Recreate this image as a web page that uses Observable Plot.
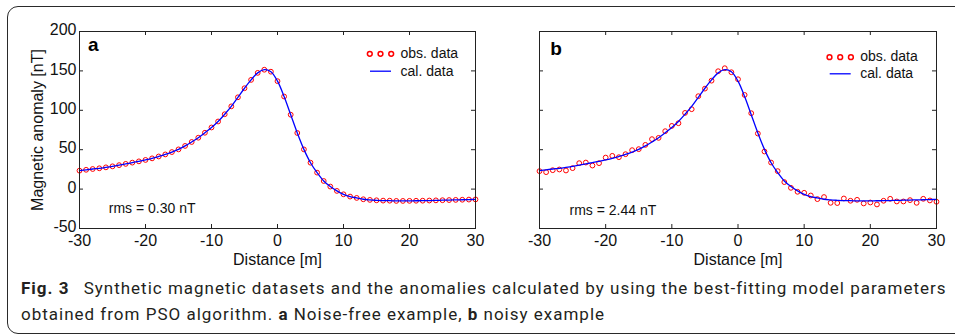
<!DOCTYPE html>
<html>
<head>
<meta charset="utf-8">
<script src="https://cdn.jsdelivr.net/npm/d3@7"></script>
<script src="https://cdn.jsdelivr.net/npm/@observablehq/plot@0.6"></script>
<style>
  html, body { margin: 0; padding: 0; background: #fff; }
  #page { position: relative; width: 955px; height: 336px; overflow: hidden; background: #fff; }
  #box { position: absolute; left: 7px; top: 6px; width: 990px; height: 328px; border: 1px solid #2a2a2a; border-radius: 11px; box-sizing: border-box; }
  #pa { position: absolute; left: 0; top: 0; }
  #pb { position: absolute; left: 480px; top: 0; }
  #cap { position: absolute; left: 21px; top: 275px; font-family: Roboto, "Noto Sans", sans-serif; font-size: 17px; line-height: 26px; color: #231f20; white-space: nowrap; }
  #cap b { font-weight: 700; }
  #cap .fig { margin-right: 9px; }
</style>
</head>
<body>
<div id="page">
  <div id="box"></div>
  <div id="pa"></div>
  <div id="pb"></div>
  <div id="cap">
    <div><span id="l1"><b class="fig">Fig. 3</b> Synthetic magnetic datasets and the anomalies calculated by using the best-fitting model parameters</span></div>
    <div><span id="l2">obtained from PSO algorithm. <b>a</b> Noise-free example, <b>b</b> noisy example</span></div>
  </div>
</div>
<script>
// ---- data ----
const distance = [-30,-29,-28,-27,-26,-25,-24,-23,-22,-21,-20,-19,-18,-17,-16,-15,-14,-13,-12,-11,-10,-9,-8,-7,-6,-5,-4,-3,-2,-1,0,1,2,3,4,5,6,7,8,9,10,11,12,13,14,15,16,17,18,19,20,21,22,23,24,25,26,27,28,29,30];

const obsA = [23.4,24.5,25.5,26.4,27.6,28.9,30.4,32.0,33.6,35.2,37.0,39.0,41.4,44.0,47.0,50.4,54.8,59.8,65.2,71.5,78.2,85.8,95.0,105.0,116.5,128.0,138.6,147.5,151.5,149.0,137.0,117.5,94.4,71.2,50.4,33.5,20.9,10.3,3.2,-2.3,-6.6,-9.5,-11.2,-12.9,-13.7,-14.2,-14.6,-14.7,-15.0,-15.0,-14.9,-14.8,-14.7,-14.5,-14.3,-14.1,-13.9,-13.7,-13.5,-13.3,-13.1];

const calValues = [23.4,24.5,25.5,26.4,27.6,28.9,30.4,32.0,33.6,35.2,37.0,39.0,41.4,44.0,47.0,50.4,54.8,59.8,65.2,71.5,78.2,85.8,95.0,105.0,116.5,128.0,138.6,147.5,151.5,149.0,137.0,117.5,94.4,71.2,50.4,33.5,20.9,10.3,3.2,-2.3,-6.6,-9.5,-11.2,-12.9,-13.7,-14.2,-14.6,-14.7,-15.0,-15.0,-14.9,-14.8,-14.7,-14.5,-14.3,-14.1,-13.9,-13.7,-13.5,-13.3,-13.1];

const obsB = [22.8,21.5,24.0,24.9,23.6,26.6,32.9,33.7,29.9,32.9,40.0,42.2,40.5,44.3,49.4,50.7,56.1,63.4,65.0,73.5,80.2,83.6,96.7,101.4,117.9,127.5,137.6,149.6,153.4,148.3,139.4,119.5,96.3,70.5,47.7,33.7,22.8,8.9,1.6,-3.4,-4.7,-8.1,-12.7,-10.1,-17.4,-17.7,-11.9,-14.8,-13.6,-18.2,-17.0,-19.5,-14.8,-12.3,-15.7,-15.7,-14.0,-17.4,-12.3,-14.4,-16.1];

const xTicks = [-30,-20,-10,0,10,20,30];
const yTicks = [-50,0,50,100,150,200];
const panelLabels = ["a", "b"];
const rmsLabels = ["rms = 0.30 nT", "rms = 2.44 nT"];
const legendLabels = ["obs. data", "cal. data"];

// ---- drawing ----
const dashSymbol = { draw(ctx) { ctx.moveTo(-10.5, 0); ctx.lineTo(10.5, 0); } };

function panel(cfg) {
  const h = 270, mt = 31, mb = 42;
  const iw = cfg.w - cfg.ml - cfg.mr, ih = h - mt - mb;
  const tl = 4;
  const rows = distance.map((x, i) => ({x, obs: cfg.obs[i], cal: calValues[i]}));
  const ink = "#222";
  const L = cfg.leg;
  return Plot.plot({
    width: cfg.w, height: h,
    marginLeft: cfg.ml, marginRight: cfg.mr, marginTop: mt, marginBottom: mb,
    style: {fontFamily: "'Liberation Sans', Arial, sans-serif", fontSize: "16px", background: "transparent", color: "#111", overflow: "visible"},
    x: {domain: [-30, 30], axis: null},
    y: {domain: [-50, 200], axis: null},
    marks: [
      Plot.dot(rows, {x: "x", y: "obs", r: 2.4, stroke: "#ff0000", strokeWidth: 1, fill: "none"}),
      Plot.line(rows, {x: "x", y: "cal", stroke: "#0000ff", strokeWidth: 1.3, curve: "catmull-rom"}),
      Plot.frame({stroke: ink, strokeWidth: 1}),
      // inward ticks on all four sides
      Plot.tickX(xTicks, {x: d => d, insetTop: ih - tl, stroke: ink}),
      Plot.tickX(xTicks, {x: d => d, insetBottom: ih - tl, stroke: ink}),
      Plot.tickY(yTicks, {y: d => d, insetRight: iw - tl, stroke: ink}),
      Plot.tickY(yTicks, {y: d => d, insetLeft: iw - tl, stroke: ink}),
      Plot.axisX({ticks: xTicks, tickSize: 0, tickPadding: 6, tickFormat: d => String(d), label: "Distance [m]", labelArrow: "none", labelAnchor: "center", labelOffset: 36, fill: "#111"}),
      cfg.yAxis
        ? Plot.axisY({ticks: yTicks, tickSize: 0, tickPadding: 3, dy: -1.5, tickFormat: d => String(d), label: "Magnetic anomaly [nT]", labelArrow: "none", labelAnchor: "center", labelOffset: 48, fill: "#111"})
        : null,
      // panel letter
      Plot.text([cfg.label], {text: d => d, frameAnchor: "top-left", textAnchor: "start", lineAnchor: "bottom", dx: cfg.lx, dy: cfg.ly, fontSize: 19, fontWeight: "bold", fill: "#000"}),
      // rms
      Plot.text([cfg.rms], {text: d => d, frameAnchor: "top-left", textAnchor: "start", lineAnchor: "bottom", dx: cfg.rx, dy: cfg.ry, fontSize: 14, fill: "#111"}),
      // legend
      Plot.dot([0], {frameAnchor: "top-left", dx: L.cx, dy: L.cy, r: 2.4, stroke: "#ff0000", fill: "none"}),
      Plot.dot([0], {frameAnchor: "top-left", dx: L.cx + 10.7, dy: L.cy, r: 2.4, stroke: "#ff0000", fill: "none"}),
      Plot.dot([0], {frameAnchor: "top-left", dx: L.cx + 21.4, dy: L.cy, r: 2.4, stroke: "#ff0000", fill: "none"}),
      Plot.dot([0], {frameAnchor: "top-left", dx: L.cx + 10.7, dy: L.ly, symbol: dashSymbol, stroke: "#0000ff", strokeWidth: 1.3, fill: "none"}),
      Plot.text([legendLabels[0]], {text: d => d, frameAnchor: "top-left", textAnchor: "start", lineAnchor: "bottom", dx: L.tx, dy: L.t1, fontSize: 14, fill: "#111"}),
      Plot.text([legendLabels[1]], {text: d => d, frameAnchor: "top-left", textAnchor: "start", lineAnchor: "bottom", dx: L.tx, dy: L.t2, fontSize: 14, fill: "#111"})
    ].filter(Boolean)
  });
}

document.getElementById("pa").append(panel({
  obs: obsA, w: 480, ml: 79, mr: 5, yAxis: true,
  label: panelLabels[0], lx: 8.5, ly: 19.5,
  rms: rmsLabels[0], rx: 29.3, ry: 181,
  leg: {cx: 290.3, cy: 22.3, ly: 39.7, tx: 321, t1: 26.8, t2: 44.5}
}));
document.getElementById("pb").append(panel({
  obs: obsB, w: 475, ml: 59, mr: 19, yAxis: false,
  label: panelLabels[1], lx: 10.7, ly: 23,
  rms: rmsLabels[1], rx: 30, ry: 183,
  leg: {cx: 290, cy: 25.7, ly: 42.3, tx: 320.7, t1: 29.5, t2: 46.5}
}));

// fit caption line width to the figure
function fitCaption() {
  const l1 = document.getElementById("l1"), l2 = document.getElementById("l2");
  l1.style.letterSpacing = "0px";
  l2.style.letterSpacing = "0px";
  const target = 925;
  const w = l1.getBoundingClientRect().width;
  const n = l1.textContent.length;
  const ls = (target - w) / n;
  l1.style.letterSpacing = ls + "px";
  l2.style.letterSpacing = ls + "px";
}
fitCaption();
if (document.fonts && document.fonts.ready) document.fonts.ready.then(fitCaption);
</script>
</body>
</html>
